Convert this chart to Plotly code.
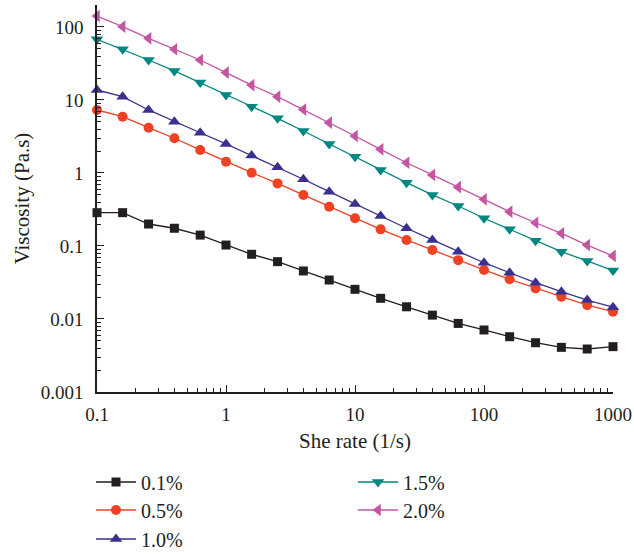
import plotly.graph_objects as go

shear_rate = [0.1, 0.158, 0.251, 0.398, 0.631, 1, 1.58, 2.51, 3.98, 6.31, 10,
              15.8, 25.1, 39.8, 63.1, 100, 158, 251, 398, 631, 1000]

visc_01 = [0.286, 0.286, 0.2, 0.175, 0.141, 0.103, 0.077, 0.061, 0.0455, 0.0342, 0.0255,
           0.0192, 0.0147, 0.0113, 0.0087, 0.00707, 0.00572, 0.00473, 0.00409, 0.00388, 0.00418]
visc_05 = [7.3, 5.9, 4.17, 2.99, 2.07, 1.43, 1.01, 0.72, 0.5, 0.345, 0.24,
           0.169, 0.121, 0.088, 0.064, 0.047, 0.035, 0.0263, 0.0202, 0.0155, 0.0126]
visc_10 = [13.7, 11.1, 7.3, 5.04, 3.56, 2.5, 1.73, 1.2, 0.82, 0.554, 0.376,
           0.258, 0.175, 0.121, 0.0835, 0.059, 0.043, 0.0314, 0.0237, 0.0182, 0.0145]
visc_15 = [67.9, 49.5, 35.3, 25, 17.3, 11.7, 8.1, 5.61, 3.76, 2.5, 1.67,
           1.1, 0.736, 0.5, 0.353, 0.24, 0.169, 0.118, 0.0835, 0.0624, 0.046]
visc_20 = [141, 101, 70, 49.5, 35.3, 23.7, 16, 11.1, 7.4, 4.89, 3.21,
           2.11, 1.38, 0.94, 0.64, 0.436, 0.295, 0.208, 0.149, 0.103, 0.073]

series_names = ["0.1%", "0.5%", "1.0%", "1.5%", "2.0%"]
series_values = [visc_01, visc_05, visc_10, visc_15, visc_20]
colors = ["#231f20", "#ef4123", "#39318f", "#00877f", "#c455a3"]
symbols = ["square", "circle", "triangle-up", "triangle-down", "triangle-left"]
sizes = [9, 10, 11, 11, 11]

x_tickvals = [0.1, 1, 10, 100, 1000]
x_ticktext = ["0.1", "1", "10", "100", "1000"]
y_tickvals = [0.001, 0.01, 0.1, 1, 10, 100]
y_ticktext = ["0.001", "0.01", "0.1", "1", "10", "100"]

def minor_vals(decades):
    return [m * d for d in decades for m in range(2, 10)]

x_minor = minor_vals([0.1, 1, 10, 100])
y_minor = minor_vals([0.001, 0.01, 0.1, 1, 10, 100])

FONT = "Liberation Serif"
TXT = "#231f20"
fig = go.Figure()
legend_ids = ["legend", "legend2", "legend3", "legend4", "legend5"]
for name, vals, c, s, sz, lg in zip(series_names, series_values, colors, symbols, sizes, legend_ids):
    fig.add_trace(go.Scatter(
        x=shear_rate, y=vals, name=name, mode="lines+markers",
        line=dict(color=c, width=1.3),
        marker=dict(symbol=s, size=sz, color=c, line=dict(width=0)),
        cliponaxis=False,
        legend=lg,
    ))

plot_left, plot_right = 97, 613
plot_top, plot_bot = 5, 392
def py(ypx):
    return (plot_bot - ypx) / (plot_bot - plot_top)
def px(xpx):
    return (xpx - plot_left) / (plot_right - plot_left)

leg_pos = [(px(91), py(482)), (px(91), py(510)), (px(91), py(539)),
           (px(353), py(482)), (px(353), py(510))]
leg_common = dict(font=dict(family=FONT, size=20, color=TXT),
                  bgcolor="rgba(0,0,0,0)", xanchor="left", yanchor="middle",
                  itemwidth=40)
layout_legends = {}
for lg, (lx, ly) in zip(legend_ids, leg_pos):
    layout_legends[lg] = dict(x=lx, y=ly, **leg_common)

axis_common = dict(
    type="log", showgrid=False, zeroline=False,
    showline=True, linecolor=TXT, linewidth=1.5,
    ticks="inside", ticklen=7, tickwidth=1.2, tickcolor=TXT,
    tickfont=dict(family=FONT, size=19, color=TXT),
    mirror=False,
)

fig.update_layout(
    width=634, height=554,
    margin=dict(l=plot_left, r=634 - plot_right, t=plot_top, b=554 - plot_bot, autoexpand=False),
    plot_bgcolor="white", paper_bgcolor="white",
    showlegend=True,
    xaxis=dict(range=[-1, 3], tickvals=x_tickvals, ticktext=x_ticktext,
               minor=dict(tickvals=x_minor, ticks="inside", ticklen=4, tickwidth=1, tickcolor=TXT, showgrid=False),
               ticklabelstandoff=4,
               title=dict(text="She rate (1/s)", font=dict(family=FONT, size=21, color=TXT), standoff=10),
               **axis_common),
    yaxis=dict(range=[-3, 2.301], tickvals=y_tickvals, ticktext=y_ticktext,
               minor=dict(tickvals=y_minor, ticks="inside", ticklen=4, tickwidth=1, tickcolor=TXT, showgrid=False),
               ticklabelstandoff=8,
               title=dict(text="Viscosity (Pa.s)", font=dict(family=FONT, size=21, color=TXT), standoff=5),
               **axis_common),
    **layout_legends,
)

fig.write_html("out.html")
